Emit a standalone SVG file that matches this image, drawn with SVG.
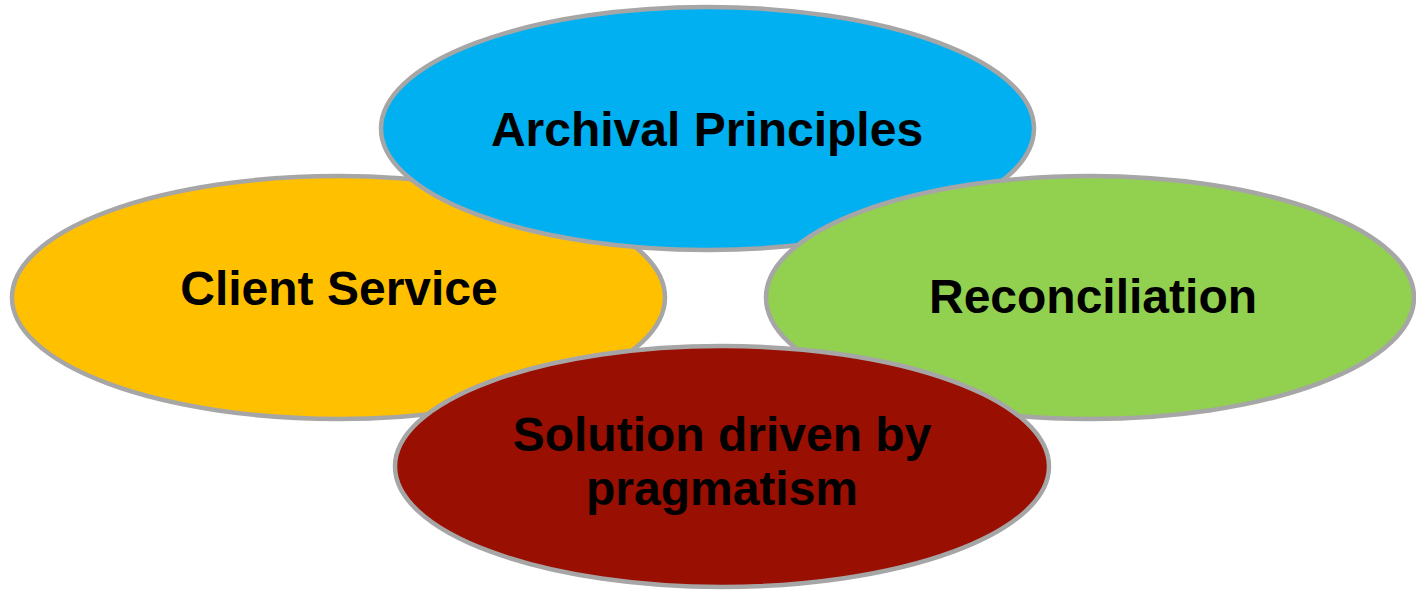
<svg xmlns="http://www.w3.org/2000/svg" width="1416" height="590" viewBox="0 0 1416 590">
<style>
.n{stroke:#A6A6A6;stroke-width:4.5}
.t{font-family:"Liberation Sans",Arial,sans-serif;font-weight:bold;font-size:48px;fill:#000;text-anchor:middle}
</style>
<rect width="1416" height="590" fill="#fff"/>
<g id="client-service">
<ellipse class="n" cx="338.5" cy="297.5" rx="326.5" ry="121.5" fill="#FFC000"/>
<text class="t" x="339" y="305">Client Service</text>
</g>
<g id="archival-principles">
<ellipse class="n" cx="707.5" cy="128.5" rx="326.5" ry="121.5" fill="#00B0F0"/>
<text class="t" x="707" y="146">Archival Principles</text>
</g>
<g id="reconciliation">
<ellipse class="n" cx="1090" cy="297.5" rx="324" ry="121.5" fill="#92D050"/>
<text class="t" x="1093" y="313">Reconciliation</text>
</g>
<g id="solution">
<ellipse class="n" cx="722" cy="466.5" rx="327" ry="120.5" fill="#990F02"/>
<text class="t" x="722" y="451">Solution driven by</text>
<text class="t" x="722" y="505">pragmatism</text>
</g>
<g id="connectors"></g>
</svg>
